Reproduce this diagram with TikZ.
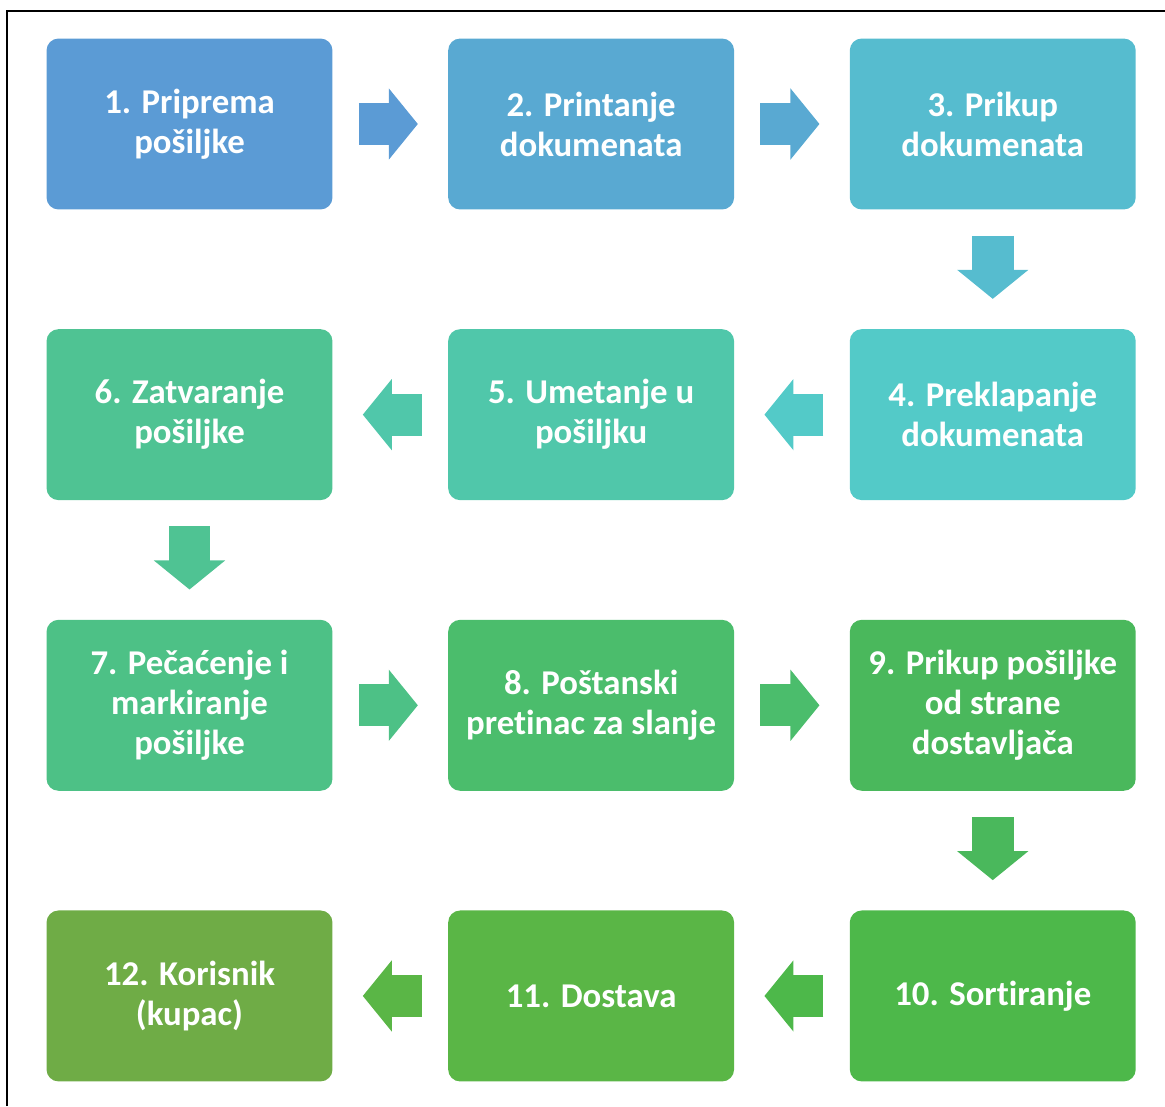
\documentclass[tikz,border=0pt]{standalone}
\usepackage{fontspec}
\setmainfont[Ligatures=NoCommon]{Carlito}
\usepackage{tikz}
\usetikzlibrary{positioning}
\usetikzlibrary{arrows.meta}
\definecolor{c1}{HTML}{5B9BD5}
\definecolor{c2}{HTML}{59A9D2}
\definecolor{c3}{HTML}{56BCCF}
\definecolor{c4}{HTML}{53CAC8}
\definecolor{c5}{HTML}{50C7AA}
\definecolor{c6}{HTML}{4FC393}
\definecolor{c7}{HTML}{4DC186}
\definecolor{c8}{HTML}{4BBD6C}
\definecolor{c9}{HTML}{4AB85C}
\definecolor{c10}{HTML}{4DB84A}
\definecolor{c11}{HTML}{5AB646}
\definecolor{c12}{HTML}{6FAC46}
\tikzstyle{stepbox}=[rectangle,rounded corners=0.24cm,minimum width=5.72cm,minimum height=3.42cm,align=center,text=white,font=\bfseries\fontsize{19.8}{22.8}\selectfont,inner sep=2pt]
\tikzstyle{blockarrow}=[line width=0.84cm,-{Triangle[width=1.42cm,length=0.58cm,line width=1pt]},shorten <=0.52cm,shorten >=0.6cm]

\begin{document}
\begin{tikzpicture}
	[x=0.02cm,y=-0.02cm,node distance=2.38cm and 2.3cm]
	\useasboundingbox (0,0) rectangle (1165,1106);
	\draw[line width=0.04cm] (7,1106) -- (7,11) -- (1165,11);
	\node (1) [stepbox,fill=c1] at (189.5,124) {1. Priprema\\pošiljke};
	\node (2) [stepbox,fill=c2,right=of 1] {2. Printanje\\dokumenata};
	\node (3) [stepbox,fill=c3,right=of 2] {3. Prikup\\dokumenata};
	\node (4) [stepbox,fill=c4,below=of 3] {4. Preklapanje\\dokumenata};
	\node (5) [stepbox,fill=c5,left=of 4] {5. Umetanje u\\pošiljku};
	\node (6) [stepbox,fill=c6,left=of 5] {6. Zatvaranje\\pošiljke};
	\node (7) [stepbox,fill=c7,below=of 6] {7. Pečaćenje i\\markiranje\\pošiljke};
	\node (8) [stepbox,fill=c8,right=of 7] {8. Poštanski\\pretinac za slanje};
	\node (9) [stepbox,fill=c9,right=of 8] {9. Prikup pošiljke\\od strane\\dostavljača};
	\node (10) [stepbox,fill=c10,below=of 9] {10. Sortiranje};
	\node (11) [stepbox,fill=c11,left=of 10] {11. Dostava};
	\node (12) [stepbox,fill=c12,left=of 11] {12. Korisnik\\(kupac)};
	\path[blockarrow]
		(1) edge[c1] (2)
		(2) edge[c2] (3)
		(3) edge[c3] (4)
		(4) edge[c4] (5)
		(5) edge[c5] (6)
		(6) edge[c6] (7)
		(7) edge[c7] (8)
		(8) edge[c8] (9)
		(9) edge[c9] (10)
		(10) edge[c10] (11)
		(11) edge[c11] (12);
\end{tikzpicture}
\end{document}
